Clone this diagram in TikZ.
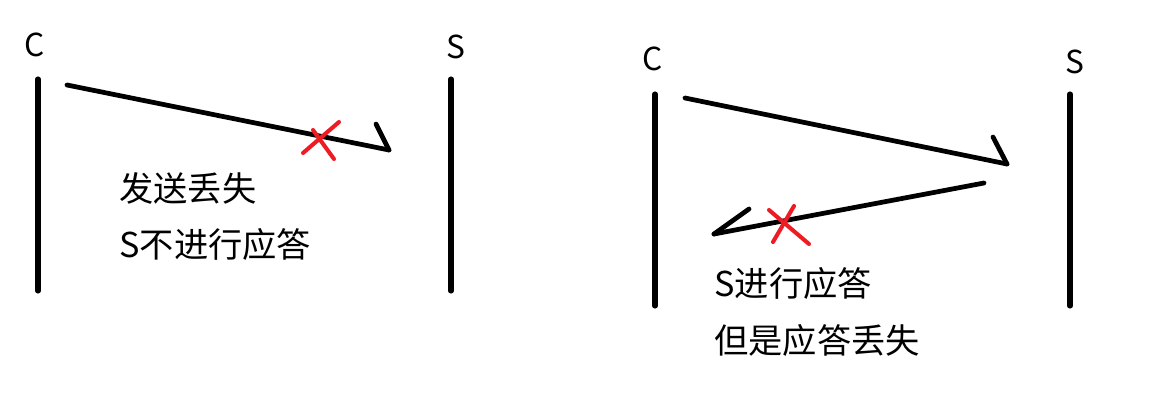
\documentclass[tikz,border=0pt]{standalone}
\usepackage{fontspec}
\setmainfont{Noto Sans CJK SC}
\usepackage{tikz}
\definecolor{mark_red}{RGB}{237,28,36}

\begin{document}
\begin{tikzpicture}[x=0.02cm,y=-0.02cm,line cap=round]
    \tikzstyle{lab}=[inner sep=0pt,text=black,font=\fontsize{18}{20}\selectfont]
    \tikzstyle{txt}=[inner sep=0pt,anchor=west,text=black,font=\fontsize{19.5}{22}\selectfont]
    \tikzstyle{life}=[draw=black,line width=2.9pt]
    \tikzstyle{msg}=[draw=black,line width=2.7pt]
    \tikzstyle{cross}=[draw=mark_red,line width=2.3pt]
    \useasboundingbox (0,0) rectangle (1167,409);

    % left: request lost
    \node[lab] (c1) at (35,45)  {C};
    \node[lab] (s1) at (456,47) {S};
    \coordinate (c1t) at (38,79);  \coordinate (c1b) at (38,291);
    \coordinate (s1t) at (451,79); \coordinate (s1b) at (451,291);
    \coordinate (m1a) at (67,85);  \coordinate (m1b) at (389,150);  \coordinate (m1h) at (376,124);
    \coordinate (x1a) at (339,122); \coordinate (x1b) at (303,153);
    \coordinate (x1c) at (313,130); \coordinate (x1d) at (334,159);
    \node[txt] (t1) at (119,188) {发送丢失};
    \node[txt] (t2) at (119,244) {S不进行应答};

    % right: reply lost
    \node[lab] (c2) at (653,59)  {C};
    \node[lab] (s2) at (1075,62) {S};
    \coordinate (c2t) at (655,94);  \coordinate (c2b) at (655,306);
    \coordinate (s2t) at (1070,94); \coordinate (s2b) at (1070,306);
    \coordinate (m2a) at (685,98);  \coordinate (m2b) at (1007,164); \coordinate (m2h) at (993,137);
    \coordinate (m3a) at (984,183); \coordinate (m3b) at (714,234);  \coordinate (m3h) at (749,209);
    \coordinate (x2a) at (794,206); \coordinate (x2b) at (773,242);
    \coordinate (x2c) at (769,210); \coordinate (x2d) at (809,244);
    \node[txt] (t3) at (714,283) {S进行应答};
    \node[txt] (t4) at (714,340) {但是应答丢失};

    \path
     (c1t) edge[life] (c1b)
     (s1t) edge[life] (s1b)
     (c2t) edge[life] (c2b)
     (s2t) edge[life] (s2b)
     (m1a) edge[msg] (m1b)
     (m1h) edge[msg] (m1b)
     (m2a) edge[msg] (m2b)
     (m2h) edge[msg] (m2b)
     (m3a) edge[msg] (m3b)
     (m3h) edge[msg] (m3b)
     (x1a) edge[cross] (x1b)
     (x1c) edge[cross] (x1d)
     (x2a) edge[cross] (x2b)
     (x2c) edge[cross] (x2d)
     ;
\end{tikzpicture}
\end{document}
